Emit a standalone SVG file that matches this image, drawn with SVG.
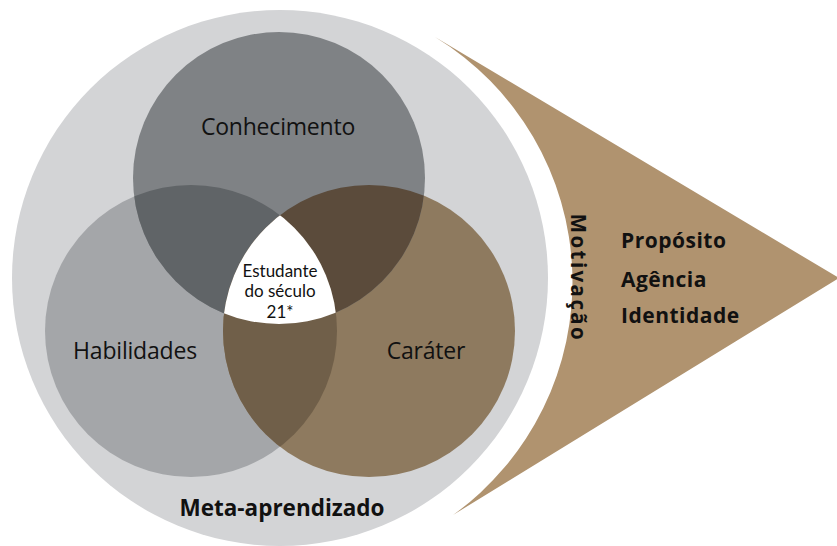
<svg xmlns="http://www.w3.org/2000/svg" width="837" height="546" viewBox="0 0 837 546">
<style>
.lbl{font-family:"Open Sans","Noto Sans","Liberation Sans",sans-serif;fill:#111;}
.c{font-family:Lato,"Open Sans","Liberation Sans",sans-serif;fill:#111;}
.b{font-weight:bold;}
</style>
<defs>
<clipPath id="cT"><circle cx="279" cy="178" r="146"/></clipPath>
<clipPath id="cL"><circle cx="191" cy="331" r="146"/></clipPath>
<clipPath id="cR"><circle cx="369" cy="331" r="146"/></clipPath>
</defs>
<rect width="837" height="546" fill="#ffffff"/>
<g id="arrow">
<path d="M435 37 L839 278 L453 515 A287 287 0 0 0 435 37 Z" fill="#b0936f"/>
</g>
<g id="meta">
<circle cx="280" cy="278" r="268" fill="#d3d4d6"/>
</g>
<g id="habilidades">
<circle cx="191" cy="331" r="146" fill="#a4a6a9"/>
</g>
<g id="carater">
<circle cx="369" cy="331" r="146" fill="#8e7a5f"/>
</g>
<g id="conhecimento">
<circle cx="279" cy="178" r="146" fill="#7f8285"/>
</g>
<g id="overlaps">
<circle cx="191" cy="331" r="146" fill="#606467" clip-path="url(#cT)"/>
<circle cx="369" cy="331" r="146" fill="#5b4b3b" clip-path="url(#cT)"/>
<circle cx="369" cy="331" r="146" fill="#705f49" clip-path="url(#cL)"/>
</g>
<g id="estudante">
<g clip-path="url(#cL)"><circle cx="369" cy="331" r="146" fill="#ffffff" clip-path="url(#cT)"/></g>
<text class="c" font-size="17" text-anchor="middle"><tspan x="280" y="277">Estudante</tspan><tspan x="280" y="297">do século</tspan><tspan x="280" y="318">21*</tspan></text>
</g>
<g id="labels">
<text class="lbl" x="278" y="135" font-size="23" text-anchor="middle" letter-spacing="-0.2">Conhecimento</text>
<text class="lbl" x="135" y="359" font-size="23" text-anchor="middle" letter-spacing="-0.2">Habilidades</text>
<text class="lbl" x="426" y="359" font-size="23" text-anchor="middle" letter-spacing="-0.2">Caráter</text>
<text class="lbl b" x="282" y="516" font-size="22.5" text-anchor="middle">Meta-aprendizado</text>
<text class="lbl b" font-size="20.5" text-anchor="middle" letter-spacing="2.4" transform="translate(571 278) rotate(90)">Motivação</text>
<text class="lbl b" x="621" y="248" font-size="21" letter-spacing="0.5">Propósito</text>
<text class="lbl b" x="621" y="287" font-size="21" letter-spacing="0.5">Agência</text>
<text class="lbl b" x="621" y="323" font-size="21" letter-spacing="0.5">Identidade</text>
</g>
</svg>
